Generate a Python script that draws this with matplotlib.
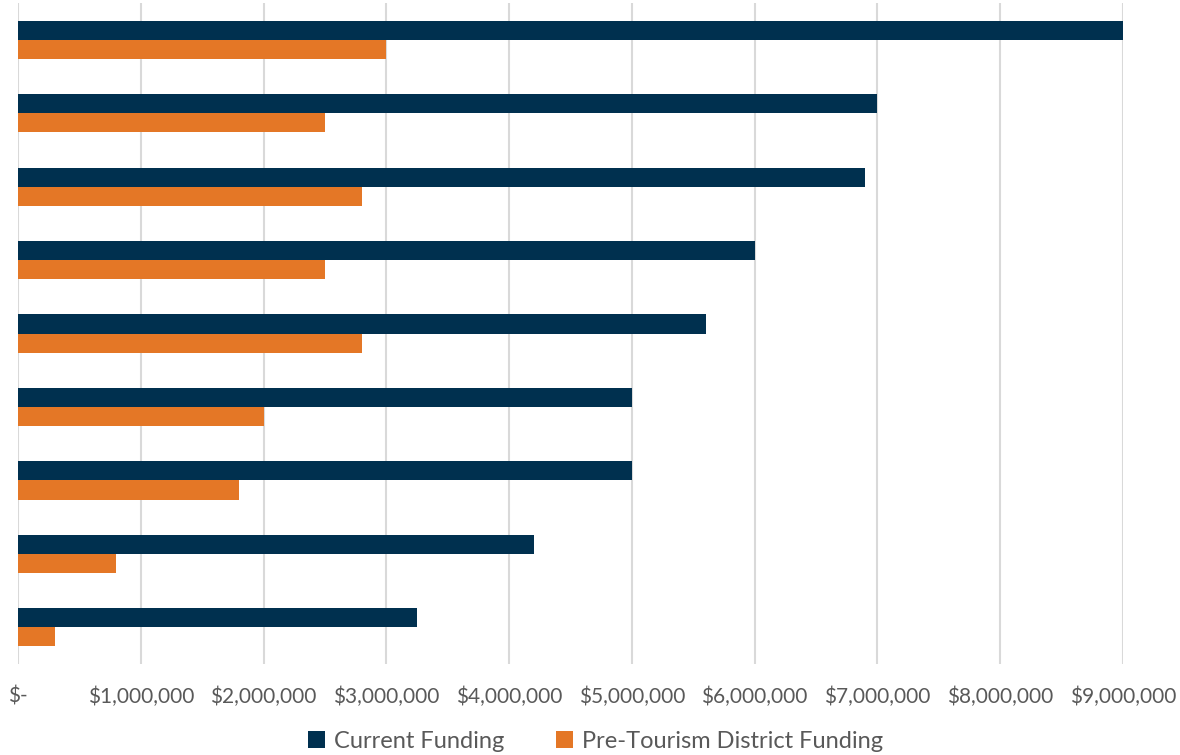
import matplotlib.pyplot as plt
import matplotlib.ticker as mticker
import numpy as np

# rows, top to bottom (the chart has no category labels)
rows = ["1", "2", "3", "4", "5", "6", "7", "8", "9"]
current = [9000000, 7000000, 6900000, 6000000, 5600000, 5000000, 5000000, 4200000, 3250000]
pre_district = [3000000, 2500000, 2800000, 2500000, 2800000, 2000000, 1800000, 800000, 300000]

navy = "#00304F"
orange = "#E47726"
grey_text = "#595959"

plt.rcParams['font.family'] = ['Lato', 'DejaVu Sans']

fig = plt.figure(figsize=(11.8, 7.55), dpi=100)
ax = fig.add_axes([0.0153, 0.1205, 0.9364, 0.8755])

y = np.arange(len(rows))
h = 0.26
ax.barh(y - h / 2, current, height=h, color=navy, label="Current Funding", zorder=3)
ax.barh(y + h / 2, pre_district, height=h, color=orange, label="Pre-Tourism District Funding", zorder=3)

ax.set_ylim(len(rows) - 0.5, -0.5)
ax.set_xlim(0, 9000000)
ax.set_yticks([])
ax.set_xticks(np.arange(0, 9000001, 1000000))


def money(v, pos):
    if v == 0:
        return "$-"
    return "${:,.0f}".format(v)


ax.xaxis.set_major_formatter(mticker.FuncFormatter(money))
ax.tick_params(axis="x", length=0, pad=16, labelsize=15, labelcolor=grey_text)
ax.grid(axis="x", color="#D9D9D9", linewidth=1.5, zorder=0)
for s in ax.spines.values():
    s.set_visible(False)

fig.legend(loc="center", bbox_to_anchor=(0.505, 1 - 741 / 755), ncol=2, frameon=False,
           fontsize=17, labelcolor=grey_text, handlelength=0.7, handleheight=0.7,
           handletextpad=0.4, columnspacing=2.2, borderpad=0)

fig.savefig("out.png")
